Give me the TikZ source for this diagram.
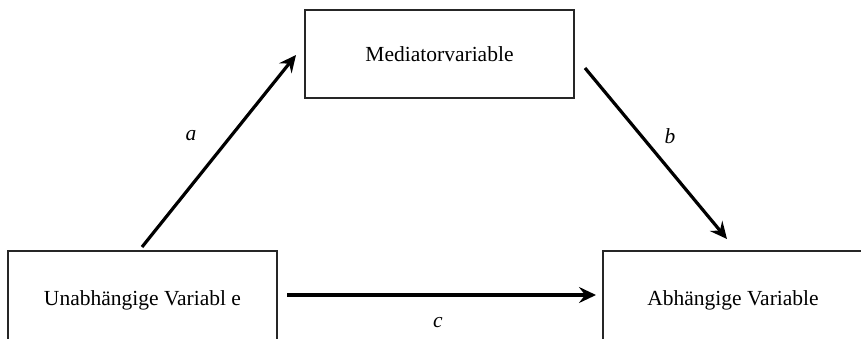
\documentclass[tikz,border=0pt]{standalone}
\usepackage{fontspec}
\setmainfont{Liberation Serif}
\usetikzlibrary{arrows.meta}
\begin{document}
\begin{tikzpicture}[x=1pt,y=-1pt,
  box/.style={draw=black!85,line width=1.6pt,inner sep=0pt,font=\fontsize{21.5}{26}\selectfont},
  conn/.style={line width=3.2pt,-{Stealth[length=17pt,width=16pt,inset=6pt]}},
  lbl/.style={font=\fontsize{21.5}{26}\selectfont\itshape}]
\useasboundingbox (0,0) rectangle (861,338);
\clip (0,0) rectangle (861,338);
\node[box,minimum width=269pt,minimum height=88pt] (med) at (439.5,54) {Mediatorvariable};
\node[box,minimum width=269pt,minimum height=98pt] (uv) at (142.5,300) {Unabhängige Variabl e};
\node[box,minimum width=260pt,minimum height=98pt] (av) at (733,300) {Abhängige Variable};
\coordinate (a0) at (142,247);
\coordinate (a1) at (296,55);
\coordinate (b0) at (585,68);
\coordinate (b1) at (727,239);
\coordinate (c0) at (287,295);
\coordinate (c1) at (596,295);
\draw[conn] (a0) -- (a1);
\draw[conn] (b0) -- (b1);
\draw[conn] (c0) -- (c1);
\node[lbl] (la) at (191,136) {a};
\node[lbl] (lb) at (670,136) {b};
\node[lbl] (lc) at (438,323) {c};
\end{tikzpicture}
\end{document}
